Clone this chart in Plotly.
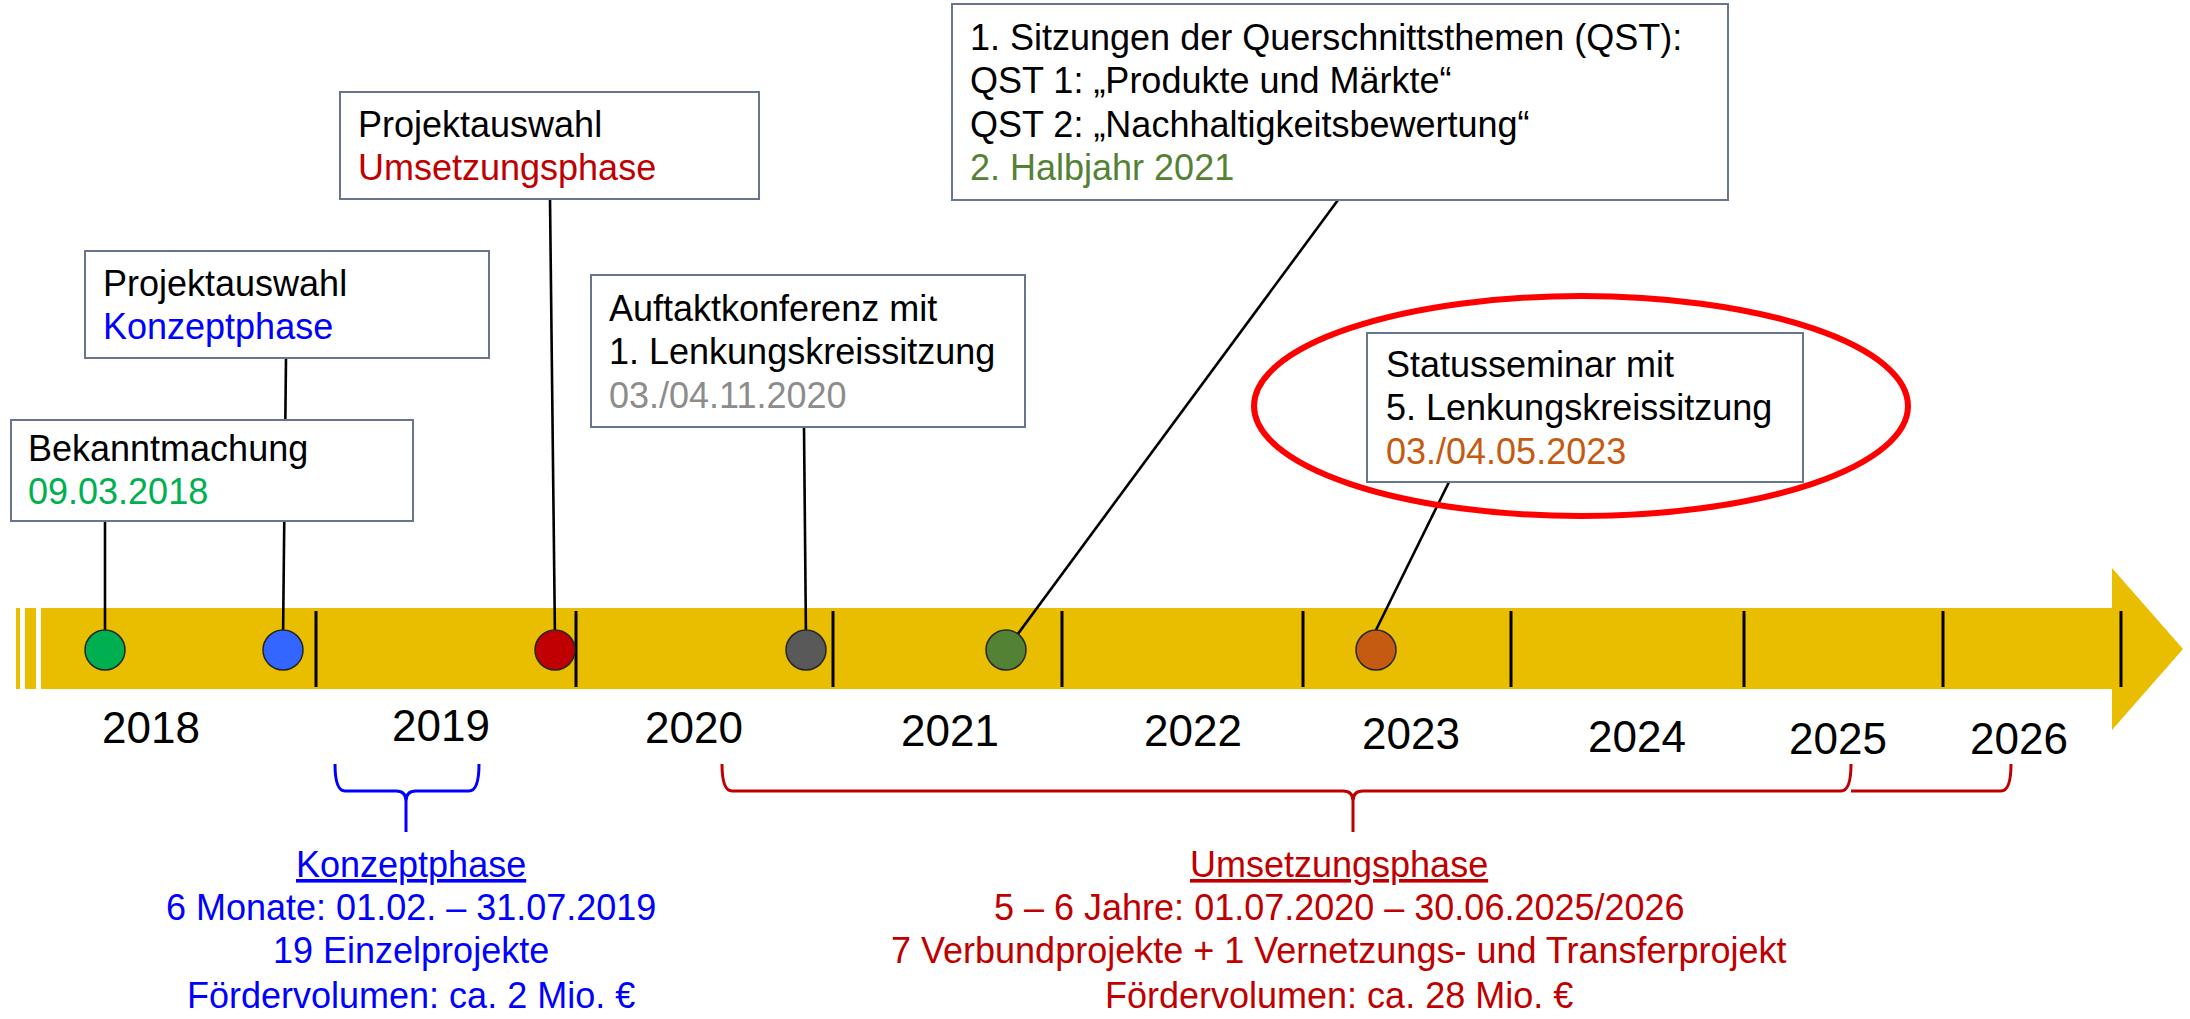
import plotly.graph_objects as go

# ---------------- data ----------------
years = ["2018", "2019", "2020", "2021", "2022", "2023", "2024", "2025", "2026"]
year_label_x = [151, 441, 694, 950, 1193, 1411, 1637, 1838, 2019]
year_label_y = [727, 725, 727, 730, 730, 733, 736, 738, 738]
year_tick_x = [316, 576, 833, 1062, 1303, 1511, 1744, 1943, 2121]

event_x = [105, 283, 555, 806, 1006, 1376]
event_colors = ["#00B050", "#3366FF", "#C00000", "#595959", "#548235", "#C55A11"]

box_lines = [
    ["Bekanntmachung"],
    ["Projektauswahl"],
    ["Projektauswahl"],
    ["Auftaktkonferenz mit", "1. Lenkungskreissitzung"],
    ["1. Sitzungen der Querschnittsthemen (QST):",
     "QST 1: \u201eProdukte und M\u00e4rkte\u201c",
     "QST 2: \u201eNachhaltigkeitsbewertung\u201c"],
    ["Statusseminar mit", "5. Lenkungskreissitzung"],
]
box_highlight = ["09.03.2018", "Konzeptphase", "Umsetzungsphase",
                 "03./04.11.2020", "2. Halbjahr 2021", "03./04.05.2023"]
box_highlight_colors = ["#00B050", "#0000FF", "#C00000", "#8C8C8C", "#548235", "#C55A11"]

# box geometry (layout units)
box_x0 = [11, 85, 340, 591, 952, 1367]
box_x1 = [413, 489, 759, 1025, 1728, 1803]
box_y0 = [420, 251, 92, 275, 4, 333]
box_y1 = [521, 358, 199, 427, 200, 482]
box_text_x = [26, 101, 356, 607, 968, 1384]
box_first_line_y = [448, 283, 124, 308, 37, 364]
line_gap = 43.5

# connectors (top point at box, bottom point at marker)
conn_top_x = [105, 286, 550, 804, 1338, 1449]
conn_top_y = [521, 358, 199, 427, 200, 482]
conn_bot_x = [105, 283, 555, 806, 1006, 1376]
conn_bot_y = [640, 640, 640, 640, 650, 630]

# phase summaries below the timeline
konzept_lines = ["<u>Konzeptphase</u>",
                 "6 Monate: 01.02. \u2013 31.07.2019",
                 "19 Einzelprojekte",
                 "F\u00f6rdervolumen: ca. 2 Mio. \u20ac"]
umsetzung_lines = ["<u>Umsetzungsphase</u>",
                   "5 \u2013 6 Jahre: 01.07.2020 \u2013 30.06.2025/2026",
                   "7 Verbundprojekte + 1 Vernetzungs- und Transferprojekt",
                   "F\u00f6rdervolumen: ca. 28 Mio. \u20ac"]
summary_line_y = [864, 907, 950, 995]
konzept_center_x = 411
umsetzung_center_x = 1339

# braces: (left, tip, right)
blue_brace = (335, 406, 479)
red_brace = (722, 1353, 1851)
red_brace_ext = 2011

# ---------------- styling ----------------
W, H = 2190, 1019
FONT = "Liberation Sans, Arial, sans-serif"
BAR = "#E9BE00"
BOXLINE = "#66768E"
BAR_Y0, BAR_Y1 = 608, 689
MARK_Y = 650

shapes = []
annotations = []

# timeline bar with broken start and arrow head
for sx0, sx1 in [(16, 20), (25, 36)]:
    shapes.append(dict(type="rect", x0=sx0, x1=sx1, y0=BAR_Y0, y1=BAR_Y1,
                       fillcolor=BAR, line_width=0, layer="below"))
shapes.append(dict(type="rect", x0=41, x1=2113, y0=BAR_Y0, y1=BAR_Y1,
                   fillcolor=BAR, line_width=0, layer="below"))
shapes.append(dict(type="path", path="M 2112,568 L 2183,649 L 2112,730 Z",
                   fillcolor=BAR, line_width=0, layer="below"))

# year ticks
for tx in year_tick_x:
    shapes.append(dict(type="line", x0=tx, x1=tx, y0=611, y1=687,
                       line=dict(color="black", width=3), layer="below"))

# connectors
for i in range(len(conn_top_x)):
    shapes.append(dict(type="line", x0=conn_top_x[i], y0=conn_top_y[i],
                       x1=conn_bot_x[i], y1=conn_bot_y[i],
                       line=dict(color="black", width=2.6), layer="below"))

# boxes
for i in range(len(box_x0)):
    shapes.append(dict(type="rect", x0=box_x0[i], x1=box_x1[i], y0=box_y0[i], y1=box_y1[i],
                       fillcolor="white", line=dict(color=BOXLINE, width=2), layer="below"))
    lines = box_lines[i] + [box_highlight[i]]
    colors = ["black"] * len(box_lines[i]) + [box_highlight_colors[i]]
    for j, (t, c) in enumerate(zip(lines, colors)):
        annotations.append(dict(x=box_text_x[i], y=box_first_line_y[i] + j * line_gap,
                                text=t, showarrow=False, xanchor="left", yanchor="middle",
                                font=dict(family=FONT, size=36, color=c)))

# red highlight ellipse
shapes.append(dict(type="circle", x0=1254, x1=1908, y0=296, y1=516,
                   line=dict(color="#FF0000", width=6), layer="below"))


def brace_path(xl, xm, xr, ytop=764, ymid=791, ytip=832, r=10):
    p = (f"M {xl},{ytop} Q {xl},{ymid} {xl + r},{ymid} L {xm - r},{ymid} "
         f"Q {xm},{ymid} {xm},{ymid + r} L {xm},{ytip} "
         f"M {xm},{ymid + r} Q {xm},{ymid} {xm + r},{ymid} L {xr - r},{ymid} "
         f"Q {xr},{ymid} {xr},{ytop}")
    return p


shapes.append(dict(type="path", path=brace_path(*blue_brace),
                   line=dict(color="#0000FF", width=3), layer="below"))
shapes.append(dict(type="path", path=brace_path(*red_brace),
                   line=dict(color="#C00000", width=3), layer="below"))
xr0 = red_brace[2]
shapes.append(dict(type="path",
                   path=f"M {xr0},{791} L {red_brace_ext - 10},{791} Q {red_brace_ext},{791} {red_brace_ext},{764}",
                   line=dict(color="#C00000", width=3), layer="below"))

# year labels
for yl, x, y in zip(years, year_label_x, year_label_y):
    annotations.append(dict(x=x, y=y, text=yl, showarrow=False, xanchor="center",
                            yanchor="middle", font=dict(family=FONT, size=44, color="black")))

# phase summaries
for t, y in zip(konzept_lines, summary_line_y):
    annotations.append(dict(x=konzept_center_x, y=y, text=t, showarrow=False,
                            xanchor="center", yanchor="middle",
                            font=dict(family=FONT, size=36, color="#0000FF")))
for t, y in zip(umsetzung_lines, summary_line_y):
    annotations.append(dict(x=umsetzung_center_x, y=y, text=t, showarrow=False,
                            xanchor="center", yanchor="middle",
                            font=dict(family=FONT, size=36, color="#C00000")))

fig = go.Figure()
fig.add_trace(go.Scatter(
    x=event_x, y=[MARK_Y] * len(event_x), mode="markers",
    marker=dict(size=40, color=event_colors, line=dict(color="#262626", width=1.5)),
    hoverinfo="skip", showlegend=False))

fig.update_layout(
    width=W, height=H, margin=dict(l=0, r=0, t=0, b=0),
    paper_bgcolor="white", plot_bgcolor="white",
    xaxis=dict(range=[0, W], visible=False, fixedrange=True),
    yaxis=dict(range=[H, 0], visible=False, fixedrange=True),
    shapes=shapes, annotations=annotations, showlegend=False,
)

fig.write_html("out.html", config={"displayModeBar": False},
               post_script="document.body.style.margin='0';")
